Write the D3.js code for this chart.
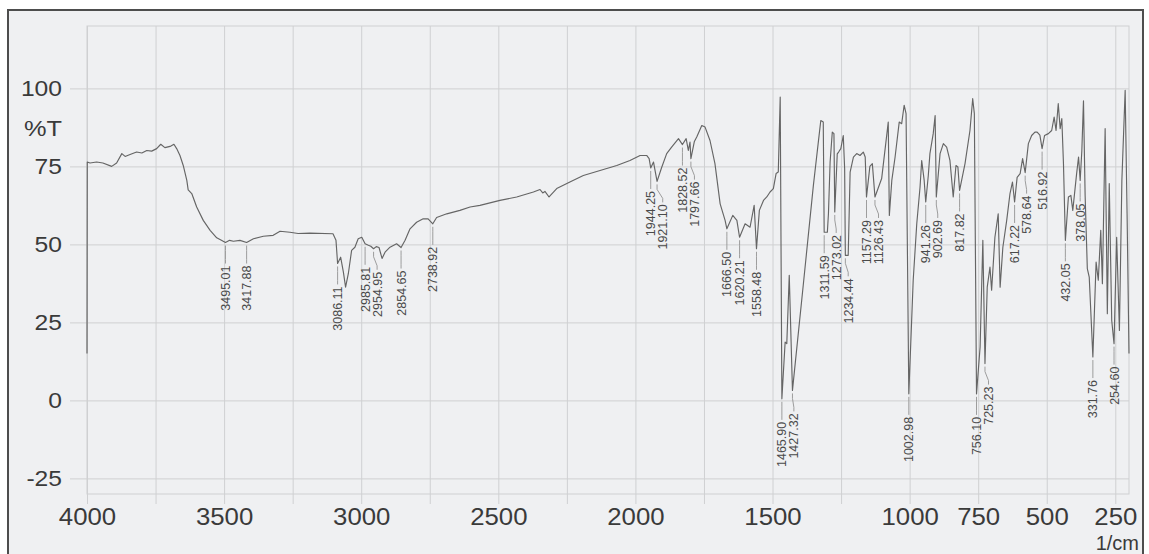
<!DOCTYPE html>
<html>
<head>
<meta charset="utf-8">
<script src="https://cdn.jsdelivr.net/npm/d3@7"></script>
<style>
  html, body { margin: 0; padding: 0; background: #ffffff; }
  svg { display: block; }
  text { font-family: "Liberation Sans", Arial, Helvetica, sans-serif; }
</style>
</head>
<body>
<svg id="chart" width="1149" height="554"></svg>
<script>
// IR transmittance spectrum, wavenumber (1/cm) vs %T
const wavenumber = [
  4000, 3999, 3989, 3965, 3942, 3910, 3892, 3873, 3861, 3843,
  3819, 3800, 3782, 3764, 3746, 3731, 3716, 3697, 3683, 3673,
  3661, 3649, 3636, 3631, 3618, 3600, 3576, 3551, 3527, 3510,
  3495.01, 3480, 3466, 3442, 3417.88, 3393, 3357, 3321, 3296, 3260,
  3230, 3187, 3103, 3092, 3086.11, 3075, 3065, 3057, 3047, 3035,
  3023, 3011, 2998, 2985.81, 2974, 2965, 2954.95, 2945, 2935, 2924,
  2913, 2895, 2871, 2854.65, 2840, 2822, 2798, 2774, 2756, 2738.92,
  2725, 2688, 2640, 2603, 2567, 2494, 2433, 2372, 2348, 2338,
  2330, 2315, 2287, 2239, 2190, 2129, 2068, 2020, 1983, 1959,
  1950, 1944.25, 1934, 1921.10, 1905, 1886, 1868, 1843, 1828.52, 1815,
  1807, 1801, 1797.66, 1785, 1776, 1758, 1746, 1728, 1710, 1691,
  1673, 1666.50, 1645, 1630, 1620.21, 1600, 1582, 1567, 1558.48, 1548,
  1533, 1521, 1509, 1497, 1487, 1479, 1472, 1465.90, 1454, 1448,
  1439, 1427.32, 1388, 1351, 1333, 1324, 1315, 1311.59, 1300, 1296,
  1290, 1282, 1276, 1273.02, 1264, 1259, 1251, 1242, 1237, 1234.44,
  1224, 1217, 1205, 1193, 1181, 1169, 1162, 1157.29, 1145, 1136,
  1126.43, 1102, 1078, 1074, 1065, 1053, 1038, 1029, 1020, 1013,
  1002.98, 987, 974, 962, 956, 947, 941.26, 932, 926, 914,
  907, 902.69, 889, 877, 865, 853, 841, 831, 824, 817.82,
  798, 780, 770, 764, 756.10, 743, 733, 725.23, 717, 707,
  701, 689, 677, 670, 660, 646, 634, 625, 617.22, 608,
  597, 588, 578.64, 567, 555, 543, 535, 525, 516.92, 508,
  494, 482, 473, 466, 458, 451, 445, 439, 432.05, 421,
  412, 405, 391, 384, 378.05, 372, 366, 360, 352, 345,
  331.76, 320, 312, 303, 297, 287, 279, 272, 263, 254.60,
  245, 235, 226, 214, 207, 200
];
const transmittance = [
  15.0, 76.4, 76.1, 76.4, 76.1, 75.0, 76.1, 79.1, 78.2, 78.8,
  79.6, 79.3, 80.1, 79.9, 80.7, 82.1, 81.0, 81.4, 82.1, 80.7,
  78.5, 75.3, 70.5, 67.5, 66.3, 62.0, 57.7, 54.5, 52.1, 51.3,
  50.6, 51.3, 51.0, 51.3, 50.6, 51.8, 52.6, 52.9, 54.2, 53.9,
  53.5, 53.6, 53.4, 51.3, 43.9, 45.9, 41.1, 36.3, 40.6, 48.1,
  49.1, 51.8, 52.3, 50.2, 49.7, 49.4, 48.6, 49.3, 49.0, 45.5,
  47.5, 49.1, 50.2, 49.0, 51.3, 55.0, 57.1, 58.2, 58.2, 56.6,
  58.6, 59.8, 60.9, 62.0, 62.5, 64.1, 65.2, 66.8, 67.6, 66.5,
  67.0, 65.2, 67.9, 70.0, 72.1, 73.7, 75.3, 76.9, 78.5, 78.5,
  77.5, 74.5, 76.4, 70.2, 74.5, 79.1, 81.2, 83.9, 82.0, 83.9,
  80.1, 82.8, 77.5, 83.0, 84.5, 88.1, 87.6, 83.3, 75.9, 63.0,
  57.7, 55.0, 59.3, 57.7, 52.3, 56.6, 55.5, 62.5, 48.6, 60.9,
  64.1, 65.2, 66.8, 67.9, 72.7, 73.2, 97.2, 0.5, 18.7, 18.2,
  40.1, 3.2, 36.9, 68.9, 82.8, 89.7, 89.2, 53.9, 53.9, 60.0,
  76.4, 86.0, 85.5, 60.4, 79.0, 79.6, 80.7, 84.9, 74.3, 46.5,
  46.5, 73.2, 78.0, 79.1, 78.5, 79.6, 78.0, 65.2, 75.0, 75.9,
  65.2, 71.1, 89.2, 59.3, 70.5, 78.0, 89.2, 88.7, 94.6, 91.9,
  2.1, 38.5, 56.6, 68.4, 76.9, 70.5, 63.6, 72.0, 79.1, 85.5,
  91.3, 65.2, 79.1, 82.3, 81.2, 76.9, 65.2, 75.3, 74.8, 67.3,
  75.9, 86.5, 96.7, 91.9, 2.1, 17.1, 51.3, 11.8, 36.3, 42.7,
  35.3, 52.3, 59.8, 36.3, 49.1, 57.7, 66.3, 70.0, 63.6, 71.5,
  72.7, 77.5, 73.0, 82.3, 84.9, 86.0, 86.0, 85.0, 80.7, 84.9,
  85.5, 86.5, 90.8, 86.5, 95.1, 87.1, 90.3, 75.9, 51.3, 65.2,
  65.7, 60.9, 72.7, 78.0, 70.5, 80.0, 96.0, 65.7, 42.2, 39.5,
  13.9, 44.3, 38.5, 54.5, 37.4, 87.1, 27.8, 69.5, 25.6, 18.2,
  52.3, 22.4, 70.5, 99.4, 59.8, 15.0
];

// Wavenumbers of the annotated bands
const peakWavenumbers = [
  3495.01, 3417.88, 3086.11, 2985.81, 2954.95, 2854.65, 2738.92,
  1944.25, 1921.10, 1828.52, 1797.66, 1666.50, 1620.21, 1558.48,
  1465.90, 1427.32, 1311.59, 1273.02, 1234.44, 1157.29, 1126.43,
  1002.98, 941.26, 902.69, 817.82, 756.10, 725.23, 617.22, 578.64,
  516.92, 432.05, 378.05, 331.76, 254.60
];

// Axis ticks
const xTickValues = d3.range(4000, 249, -250);
const xTickLabels = [4000, 3500, 3000, 2500, 2000, 1500, 1000, 750, 500, 250];
const yTickValues = [100, 75, 50, 25, 0, -25];

const svg = d3.select("#chart");

const x = d3.scaleLinear().domain([4000, 200]).range([87, 1129]);
const y = d3.scaleLinear().domain([-30, 120]).range([494, 26]);

const gridColor = "#cfd0d2";
const inkColor = "#3a3a3a";

// paper with the dark scan border
svg.append("rect").attr("x", 8).attr("y", 10).attr("width", 1135).attr("height", 560)
  .attr("fill", "#eff0f2").attr("stroke", "#4d4d4d").attr("stroke-width", 2);

// vertical grid lines + bottom ticks
const gx = svg.append("g").attr("transform", `translate(0,${y(-30)})`)
  .call(d3.axisBottom(x).tickValues(xTickValues).tickSize(10)
    .tickFormat(d => xTickLabels.includes(d) ? String(d) : ""));
gx.select(".domain").remove();
gx.selectAll(".tick line").attr("stroke", gridColor).attr("y1", -(y(-30) - y(120)));
gx.selectAll(".tick text")
  .attr("fill", inkColor).attr("font-size", 23).attr("y", 15)
  .attr("font-family", "Liberation Sans, Arial, sans-serif");

// horizontal grid lines + left ticks
const gy = svg.append("g").attr("transform", `translate(${x(4000)},0)`)
  .call(d3.axisLeft(y).tickValues(yTickValues).tickSize(17).tickPadding(8)
    .tickFormat(d => String(d)));
gy.select(".domain").remove();
gy.selectAll(".tick line").attr("stroke", gridColor).attr("x1", -17).attr("x2", x(200) - x(4000));
gy.selectAll(".tick text")
  .attr("fill", inkColor).attr("font-size", 22)
  .attr("font-family", "Liberation Sans, Arial, sans-serif");

// widen the printed tick labels slightly
svg.selectAll(".tick text").each(function () {
  const w = this.getComputedTextLength();
  if (w > 0) d3.select(this).attr("textLength", w * 1.12).attr("lengthAdjust", "spacingAndGlyphs");
});

// plot frame
svg.append("rect")
  .attr("x", x(4000)).attr("y", y(120))
  .attr("width", x(200) - x(4000)).attr("height", y(-30) - y(120))
  .attr("fill", "none").attr("stroke", gridColor).attr("stroke-width", 1);

// axis titles
svg.append("text").attr("x", 62).attr("y", 136).attr("text-anchor", "end")
  .attr("font-size", 22).attr("fill", inkColor).attr("textLength", 38)
  .attr("lengthAdjust", "spacingAndGlyphs").text("%T");
svg.append("text").attr("x", 1139).attr("y", 550).attr("text-anchor", "end")
  .attr("font-size", 20).attr("fill", inkColor).text("1/cm");

// spectrum trace
const points = wavenumber.map((w, i) => [w, transmittance[i]]);
svg.append("path").datum(points)
  .attr("fill", "none").attr("stroke", "#656565").attr("stroke-width", 1.15)
  .attr("stroke-linejoin", "round")
  .attr("d", d3.line().x(d => x(d[0])).y(d => y(d[1])));

// band annotations: vertical labels hanging under each band, nudged apart when crowded
const labelLen = 46, labelGap = 12, labelDrop = 23;
const labels = peakWavenumbers.map(v => {
  const t = transmittance[wavenumber.indexOf(v)];
  return { v, t, px: x(v), py: y(t) };
}).sort((a, b) => a.px - b.px);
labels.forEach((d, i) => {
  d.top = d.py + labelDrop;
  d.lx = d.px;
  if (i > 0) {
    const p = labels[i - 1];
    const overlapY = d.top < p.top + labelLen && p.top < d.top + labelLen;
    if (overlapY && d.lx < p.lx + labelGap) d.lx = p.lx + labelGap;
  }
});

const ann = svg.append("g");
ann.selectAll("path.leader").data(labels).join("path")
  .attr("class", "leader")
  .attr("fill", "none").attr("stroke", "#939393").attr("stroke-width", 0.9)
  .attr("d", d => `M${d.px},${d.py + 3} L${d.px},${d.py + 8} L${d.lx},${d.top - 6} L${d.lx},${d.top - 2}`);
ann.selectAll("text.peak").data(labels).join("text")
  .attr("class", "peak")
  .attr("transform", d => `translate(${d.lx + 4.5},${d.top}) rotate(-90)`)
  .attr("text-anchor", "end")
  .attr("font-size", 12.5).attr("fill", "#4a4a4a")
  .text(d => d3.format(".2f")(d.v));
</script>
</body>
</html>
